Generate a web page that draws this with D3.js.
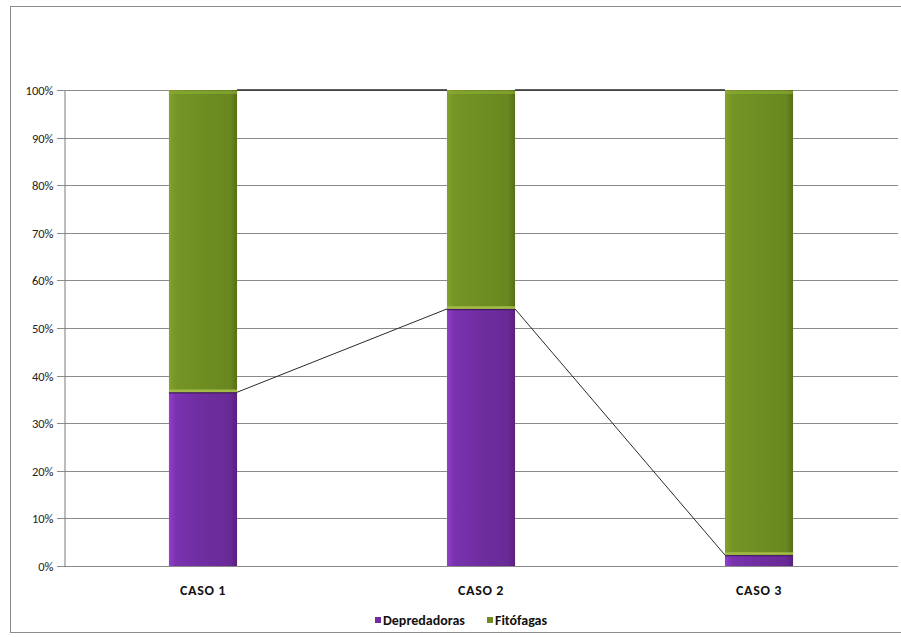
<!DOCTYPE html>
<html>
<head>
<meta charset="utf-8">
<script src="https://cdn.jsdelivr.net/npm/d3@7"></script>
<style>
  html, body { margin: 0; padding: 0; background: #fff; }
  svg { display: block; }
</style>
</head>
<body>
<svg id="chart" width="901" height="637"></svg>
<script>
// Stacked 100% composition per case
const categories = ["CASO 1", "CASO 2", "CASO 3"];
const depredadoras = [36.5, 54.0, 2.3];
const fitofagas = [63.5, 46.0, 97.7];
const seriesNames = ["Depredadoras", "Fitófagas"];
const tickValues = [0, 10, 20, 30, 40, 50, 60, 70, 80, 90, 100];

const svg = d3.select("#chart");
const W = 901, H = 637;
const margin = { left: 64, right: 3, top: 90, bottom: 71 };
const font = "Carlito, Calibri, Lato, 'Open Sans', sans-serif";

// outer chart frame
svg.append("rect").attr("x", 10.5).attr("y", 6.5).attr("width", W).attr("height", 626)
  .attr("fill", "#fff").attr("stroke", "#8c8c8c").attr("stroke-width", 1);

const x = d3.scaleBand().domain(categories).range([margin.left, W - margin.right]).paddingInner(0.755).paddingOuter(0.3775);
const y = d3.scaleLinear().domain([0, 100]).range([H - margin.bottom, margin.top]);

const defs = svg.append("defs");
function grad(id, stops) {
  const g = defs.append("linearGradient").attr("id", id).attr("x1", "0").attr("x2", "1").attr("y1", "0").attr("y2", "0");
  stops.forEach(([o, c]) => g.append("stop").attr("offset", o).attr("stop-color", c));
}
grad("gPurple", [[0, "#9440cc"], [0.1, "#7a32b0"], [0.5, "#6f2da0"], [0.9, "#692a97"], [1, "#57207f"]]);
grad("gGreen", [[0, "#84a32c"], [0.1, "#759526"], [0.5, "#6e8e22"], [0.9, "#68871f"], [1, "#566f18"]]);

// horizontal gridlines
svg.append("g").selectAll("line").data(tickValues).join("line")
  .attr("x1", margin.left - 7).attr("x2", W - margin.right)
  .attr("y1", d => Math.round(y(d)) + 0.5).attr("y2", d => Math.round(y(d)) + 0.5)
  .attr("stroke", "#8a8a8a").attr("stroke-width", 1);

// y axis
const yAxis = d3.axisLeft(y).tickValues(tickValues).tickFormat(d => d + "%").tickSize(0).tickPadding(11);
const gy = svg.append("g").attr("transform", `translate(${margin.left + 0.5},0.5)`).call(yAxis);
gy.select(".domain").attr("stroke", "#7a7a7a");
gy.selectAll("text").attr("font-family", font).attr("font-size", 12.5).attr("fill", "#222");

// x axis labels
const xAxis = d3.axisBottom(x).tickSize(0).tickPadding(19);
const gx = svg.append("g").attr("transform", `translate(0,${H - margin.bottom + 0.5})`).call(xAxis);
gx.select(".domain").remove();
gx.selectAll("text").attr("font-family", font).attr("font-size", 14).attr("letter-spacing", "0.6px")
  .attr("font-weight", "bold").attr("fill", "#111");

// stacked bars
const rows = categories.map((c, i) => ({ cat: c, Depredadoras: depredadoras[i], "Fitófagas": fitofagas[i] }));
const stack = d3.stack().keys(seriesNames)(rows);
const fills = { "Depredadoras": "url(#gPurple)", "Fitófagas": "url(#gGreen)" };

stack.forEach(layer => {
  const g = svg.append("g");
  g.selectAll("rect.seg").data(layer).join("rect").attr("class", "seg")
    .attr("x", d => x(d.data.cat)).attr("width", x.bandwidth())
    .attr("y", d => y(d[1])).attr("height", d => y(d[0]) - y(d[1]))
    .attr("fill", fills[layer.key]);
  if (layer.key === "Fitófagas") {
    // light rim along the lower edge and just under the top of the green segment
    g.selectAll("line.rimB").data(layer).join("line").attr("class", "rimB")
      .attr("x1", d => x(d.data.cat)).attr("x2", d => x(d.data.cat) + x.bandwidth())
      .attr("y1", d => y(d[0]) - 1.5).attr("y2", d => y(d[0]) - 1.5)
      .attr("stroke", "#a3ba46").attr("stroke-width", 2.5);
    g.selectAll("line.rimT").data(layer).join("line").attr("class", "rimT")
      .attr("x1", d => x(d.data.cat)).attr("x2", d => x(d.data.cat) + x.bandwidth())
      .attr("y1", d => y(d[1]) + 2.5).attr("y2", d => y(d[1]) + 2.5)
      .attr("stroke", "#90ad38").attr("stroke-width", 3).attr("opacity", 0.6);
  } else {
    // darker seam at the top of the purple segment
    g.selectAll("line.rimT").data(layer).join("line").attr("class", "rimT")
      .attr("x1", d => x(d.data.cat)).attr("x2", d => x(d.data.cat) + x.bandwidth())
      .attr("y1", d => y(d[1]) + 0.5).attr("y2", d => y(d[1]) + 0.5)
      .attr("stroke", "#45196a").attr("stroke-width", 1.5);
  }
});

// series lines joining segment tops between neighbouring bars
const seriesLines = svg.append("g").attr("stroke", "#2a2a2a").attr("stroke-width", 1).attr("fill", "none");
stack.forEach(layer => {
  for (let i = 0; i < layer.length - 1; i++) {
    const a = layer[i], b = layer[i + 1];
    seriesLines.append("line")
      .attr("x1", x(a.data.cat) + x.bandwidth()).attr("y1", y(a[1]))
      .attr("x2", x(b.data.cat)).attr("y2", y(b[1]))
      .attr("stroke-width", layer.key === "Fitófagas" ? 1.5 : 1);
  }
});

// legend
const legendColors = ["#6f2da0", "#6d8d22"];
const legend = svg.append("g").attr("font-family", font).attr("font-size", 14).attr("font-weight", "bold");
const lx = [375, 487];
seriesNames.forEach((s, i) => {
  legend.append("rect").attr("x", lx[i]).attr("y", 617).attr("width", 6).attr("height", 6).attr("fill", legendColors[i]);
  legend.append("text").attr("x", lx[i] + 8).attr("y", 625).attr("fill", "#111").text(s);
});
</script>
</body>
</html>
